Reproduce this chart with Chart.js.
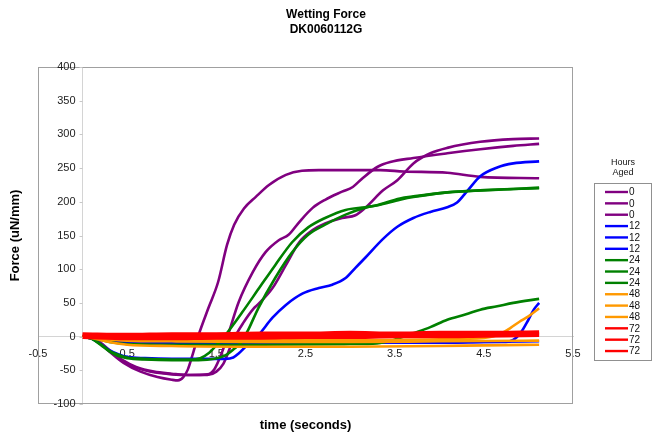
<!DOCTYPE html>
<html>
<head>
<meta charset="utf-8">
<script src="https://cdn.jsdelivr.net/npm/chart.js@4/dist/chart.umd.min.js"></script>
<style>
  html, body { margin: 0; padding: 0; background: #ffffff; }
  canvas { display: block; }
</style>
</head>
<body>
<canvas id="c" width="652" height="434"></canvas>
<script>
const FONT = 'Arial, "Liberation Sans", Helvetica, sans-serif';

// Text
const chartTitle = ['Wetting Force', 'DK0060112G'];
const xAxisTitle = 'time (seconds)';
const yAxisTitle = 'Force (uN/mm)';
const legendTitle = ['Hours', 'Aged'];

// Axes
const xTickValues = [-0.5, 0.5, 1.5, 2.5, 3.5, 4.5, 5.5];
const yTickStep = 50;

// Series labels and colours (hours aged)
const hoursAged = ['0', '0', '0', '12', '12', '12', '24', '24', '24', '48', '48', '48', '72', '72', '72'];
const hourColors = { '0': '#800080', '12': '#0000ff', '24': '#008000', '48': '#ff9900', '72': '#ff0000' };

// Wetting force runs: [time (s), force (uN/mm)]
const run0a = [[0,0],[0.1,-2],[0.2,-10],[0.3,-22],[0.46,-39],[0.65,-52],[0.84,-60],[1.0,-64],[1.07,-65],[1.13,-60],[1.18,-49],[1.24,-24],[1.3,2],[1.41,42],[1.52,81],[1.62,136],[1.7,166],[1.81,190],[1.94,207],[2.09,225],[2.28,240],[2.46,246],[2.65,247],[3.0,247],[3.34,247],[3.6,245],[4.09,243],[4.46,237],[5.12,235]];
const run0b = [[0,0],[0.1,-2],[0.2,-9],[0.3,-20],[0.45,-35],[0.6,-45],[0.8,-52],[1.0,-55],[1.2,-57],[1.4,-57],[1.5,-52],[1.58,-40],[1.69,-5],[1.8,20],[1.92,42],[1.97,48],[2.13,72],[2.28,106],[2.43,140],[2.58,158],[2.72,168],[2.91,176],[3.06,180],[3.17,191],[3.37,217],[3.53,232],[3.71,257],[3.9,272],[4.09,280],[4.46,289],[4.83,293],[5.12,294]];
const run0c = [[0,0],[0.1,-2],[0.2,-10],[0.3,-21],[0.45,-36],[0.6,-46],[0.8,-53],[1.0,-56],[1.2,-57],[1.4,-56],[1.48,-48],[1.55,-28],[1.63,2],[1.75,51],[1.91,96],[2.05,125],[2.2,143],[2.31,151],[2.43,170],[2.58,191],[2.72,203],[2.91,215],[3.03,222],[3.14,235],[3.31,252],[3.45,259],[3.71,265],[4.09,272],[4.46,278],[4.83,283],[5.12,286]];
const run12a = [[0,0],[0.1,-3],[0.2,-11],[0.3,-20],[0.4,-26],[0.5,-30],[0.7,-32],[1.0,-33],[1.3,-33],[1.6,-33],[1.69,-31],[1.75,-25],[1.85,-12],[1.97,2],[2.13,28],[2.28,47],[2.47,64],[2.65,72],[2.8,77],[2.95,87],[3.06,102],[3.17,117],[3.37,145],[3.53,163],[3.71,176],[3.9,185],[4.09,192],[4.2,199],[4.32,217],[4.46,238],[4.65,251],[4.83,257],[5.12,260]];
const run12b = [[0,0],[0.1,-2],[0.3,-6],[0.5,-8],[1.0,-9],[2.0,-9],[3.0,-9],[4.0,-9],[4.5,-8],[4.75,-8],[4.83,-5],[4.91,5],[5.0,25],[5.06,40],[5.12,50]];
const run12c = [[0,0],[0.1,-2],[0.3,-6],[0.5,-8],[1.0,-10],[2.0,-10],[3.0,-9],[4.0,-9],[4.5,-8],[5.12,-7]];
const run24a = [[0,0],[0.1,-3],[0.2,-11],[0.3,-21],[0.4,-27],[0.5,-31],[0.7,-33],[1.0,-34],[1.2,-34],[1.32,-32],[1.42,-24],[1.52,-10],[1.6,2],[1.79,36],[1.98,72],[2.16,106],[2.35,140],[2.53,162],[2.72,176],[2.95,188],[3.17,192],[3.31,195],[3.56,203],[3.71,207],[4.09,214],[4.46,217],[4.83,219],[5.12,220]];
const run24b = [[0,0],[0.1,-3],[0.2,-12],[0.3,-22],[0.4,-29],[0.5,-32],[0.7,-34],[1.0,-35],[1.3,-35],[1.48,-33],[1.6,-28],[1.7,-18],[1.77,-10],[1.85,8],[1.97,42],[2.16,87],[2.35,125],[2.53,151],[2.72,166],[2.95,181],[3.17,191],[3.3,195],[3.56,205],[3.71,208],[4.09,214],[4.46,217],[4.83,219],[5.12,221]];
const run24c = [[0,0],[0.1,-2],[0.3,-8],[0.5,-11],[1.0,-12],[2.0,-12],[3.0,-11],[3.3,-10],[3.49,-5],[3.71,5],[3.9,14],[4.09,25],[4.3,33],[4.46,40],[4.65,45],[4.83,50],[5.12,56]];
const run48a = [[0,0],[0.1,-2],[0.3,-8],[0.5,-12],[1.0,-14],[2.0,-15],[3.0,-15],[4.0,-14],[4.5,-13],[5.12,-12]];
const run48b = [[0,0],[0.2,-2],[0.5,-4],[1.0,-5],[2.0,-5],[3.0,-5],[4.0,-4],[4.5,-2],[4.6,0],[4.7,5],[4.8,13],[4.9,22],[5.0,30],[5.12,42]];
const run48c = [[0,0],[0.2,-3],[0.5,-6],[1.0,-7],[2.0,-8],[3.0,-8],[4.0,-7],[5.12,-6]];
const run72a = [[0,-1],[0.5,-3],[1.0,-3],[1.5,-2],[2.0,-2],[2.5,-1],[3.0,-1],[3.5,0],[4.0,0],[4.5,1],[5.12,2]];
const run72b = [[0,2],[0.5,0],[1.0,1],[1.5,1],[2.0,1],[2.5,2],[3.0,3],[3.5,2],[4.0,3],[4.5,4],[5.12,4]];
const run72c = [[0,4],[0.5,3],[1.0,4],[1.5,4],[2.0,5],[2.5,5],[3.0,6],[3.5,5],[4.0,6],[4.5,6],[5.12,7]];

const runs = [run0a, run0b, run0c, run12a, run12b, run12c, run24a, run24b, run24c, run48a, run48b, run48c, run72a, run72b, run72c];

const datasets = runs.map((run, i) => ({
  label: hoursAged[i],
  data: run,
  borderColor: hourColors[hoursAged[i]],
  backgroundColor: hourColors[hoursAged[i]],
  borderWidth: hoursAged[i] === '72' ? 3.5 : 2.6,
  pointRadius: 0,
  fill: false,
  cubicInterpolationMode: 'monotone',
  order: runs.length - i   // later runs are painted on top
}));

// Frame, titles, y tick labels and the "Hours Aged" legend box
const decorations = {
  id: 'decorations',
  afterDraw(chart) {
    const { ctx, chartArea: a, scales } = chart;
    ctx.save();

    ctx.strokeStyle = '#a0a0a0';
    ctx.lineWidth = 1;
    ctx.strokeRect(a.left + 0.5, a.top + 0.5, a.right - a.left - 1, a.bottom - a.top - 1);

    // y tick labels beside the axis at time 0
    const x0 = scales.x.getPixelForValue(0);
    ctx.font = '11px ' + FONT;
    ctx.fillStyle = '#222';
    ctx.textAlign = 'right';
    ctx.textBaseline = 'middle';
    ctx.strokeStyle = '#c8c8c8';
    scales.y.ticks.forEach(t => {
      const y = scales.y.getPixelForValue(t.value);
      ctx.fillText(String(t.value), x0 - 7, y);
      ctx.beginPath();
      ctx.moveTo(x0 - 3, Math.round(y) + 0.5);
      ctx.lineTo(x0, Math.round(y) + 0.5);
      ctx.stroke();
    });

    ctx.fillStyle = '#000';
    ctx.textAlign = 'center';
    ctx.font = 'bold 12px ' + FONT;
    ctx.fillText(chartTitle[0], 326, 15);
    ctx.fillText(chartTitle[1], 326, 30);

    ctx.font = 'bold 13px ' + FONT;
    ctx.fillText(xAxisTitle, (a.left + a.right) / 2, 425);
    ctx.save();
    ctx.translate(15, (a.top + a.bottom) / 2);
    ctx.rotate(-Math.PI / 2);
    ctx.fillText(yAxisTitle, 0, 0);
    ctx.restore();

    // legend
    const lx = 594, ly = 183, lw = 57, lh = 177;
    ctx.font = '9px ' + FONT;
    ctx.fillStyle = '#111';
    ctx.fillText(legendTitle[0], 623, 163);
    ctx.fillText(legendTitle[1], 623, 173);
    ctx.strokeStyle = '#909090';
    ctx.lineWidth = 1;
    ctx.strokeRect(lx + 0.5, ly + 0.5, lw, lh);
    ctx.font = '10px ' + FONT;
    ctx.textAlign = 'left';
    chart.data.datasets.forEach((ds, i) => {
      const y = 192 + i * 11.36;
      ctx.strokeStyle = ds.borderColor;
      ctx.lineWidth = 2.4;
      ctx.beginPath();
      ctx.moveTo(605, y);
      ctx.lineTo(628, y);
      ctx.stroke();
      ctx.fillStyle = '#111';
      ctx.fillText(ds.label, 629, y + 0.5);
    });
    ctx.restore();
  }
};

new Chart(document.getElementById('c'), {
  type: 'line',
  data: { datasets },
  plugins: [decorations],
  options: {
    responsive: false,
    animation: false,
    layout: { padding: { left: 38, right: 79, top: 67, bottom: 30 } },
    plugins: { legend: { display: false }, title: { display: false }, tooltip: { enabled: false } },
    scales: {
      x: {
        type: 'linear',
        min: -0.5,
        max: 5.5,
        position: { y: 0 },
        afterBuildTicks: (scale) => { scale.ticks = xTickValues.map(v => ({ value: v })); },
        grid: { display: false, drawTicks: false },
        border: { display: true, color: '#d4d4d4', width: 1 },
        ticks: {
          autoSkip: false,
          maxRotation: 0,
          padding: 11,
          color: '#222',
          font: { family: FONT, size: 11 },
          callback: (v) => String(v)
        }
      },
      y: {
        type: 'linear',
        min: -100,
        max: 400,
        position: { x: 0 },
        grid: { display: false, drawTicks: false },
        border: { display: true, color: '#d4d4d4', width: 1 },
        ticks: { stepSize: yTickStep, display: false }
      }
    }
  }
});
</script>
</body>
</html>
